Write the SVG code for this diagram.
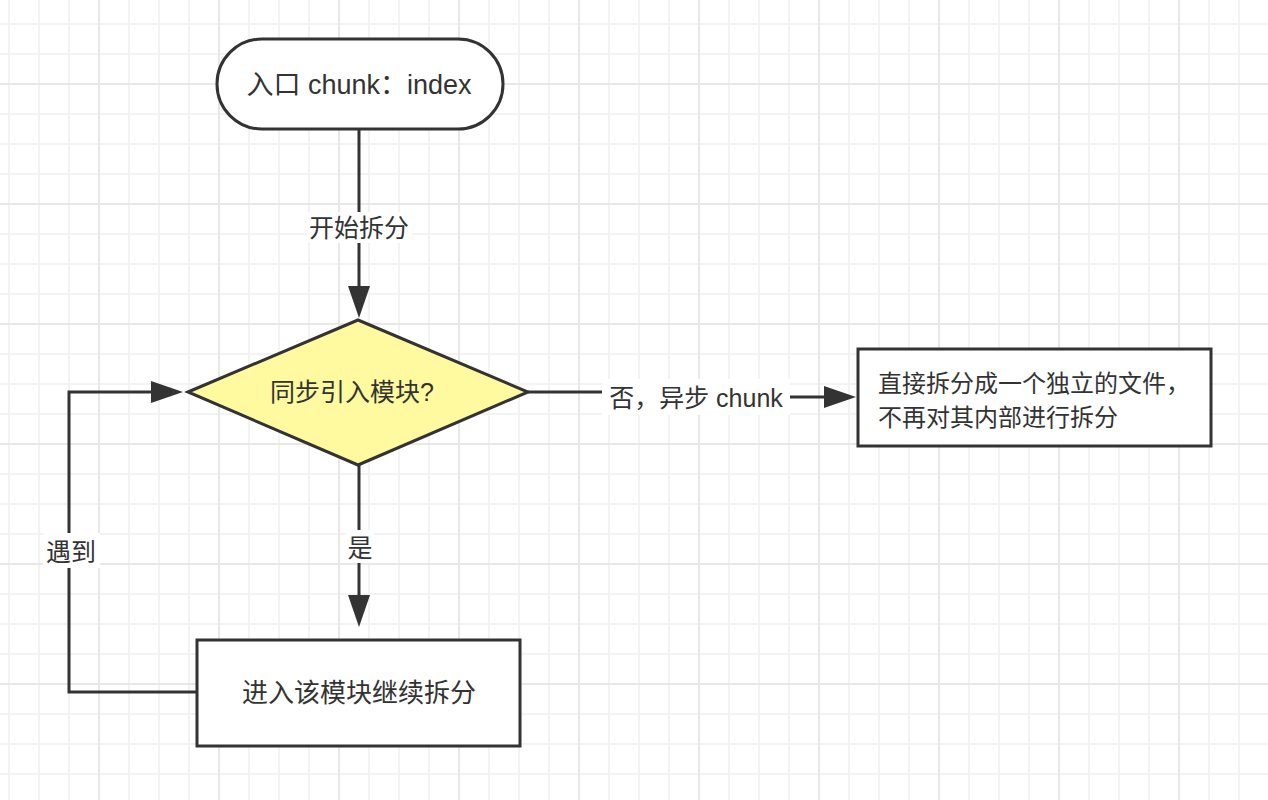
<svg xmlns="http://www.w3.org/2000/svg" width="1268" height="800" viewBox="0 0 1268 800">
<style>
  .node { stroke: #333333; stroke-width: 3; }
  .box { fill: #ffffff; }
  .dec { fill: #fffaa0; }
  .txt { font-family: "Liberation Sans", "Noto Sans CJK SC", sans-serif; fill: #333333; dominant-baseline: central; }
  .mid { text-anchor: middle; }
  .edge { fill: none; stroke: #333333; stroke-width: 3; }
  .lblbg { fill: #ffffff; }
</style>
<defs>
  <pattern id="minor" x="8" y="23" width="30" height="30" patternUnits="userSpaceOnUse">
    <path d="M1,0 V30 M0,1 H30" stroke="#f3f3f3" stroke-width="2" fill="none"/>
  </pattern>
  <pattern id="major" x="98" y="83" width="120" height="120" patternUnits="userSpaceOnUse">
    <path d="M1,0 V120 M0,1 H120" stroke="#e8e8e8" stroke-width="2" fill="none"/>
  </pattern>
  <marker id="arrow" viewBox="0 0 32 22" refX="2" refY="11" markerWidth="32" markerHeight="22" markerUnits="userSpaceOnUse" orient="auto">
    <path d="M0,0 L32,11 L0,22 Z" fill="#333333"/>
  </marker>
</defs>
<rect width="1268" height="800" fill="#ffffff"/>
<rect width="1268" height="800" fill="url(#minor)"/>
<rect width="1268" height="800" fill="url(#major)"/>

<g id="connectors">
  <path class="edge" d="M359,129 V288" marker-end="url(#arrow)"/>
  <path class="edge" d="M359,465 V597" marker-end="url(#arrow)"/>
  <path class="edge" d="M528,392 H693 V397 H826" marker-end="url(#arrow)"/>
  <path class="edge" d="M197,692 H69 V392 H153" marker-end="url(#arrow)"/>
  <g id="label-start">
    <rect class="lblbg" x="307" y="212" width="106" height="31"/>
    <text class="txt mid" x="359" y="228" font-size="25">开始拆分</text>
  </g>
  <g id="label-yes">
    <rect class="lblbg" x="346" y="530" width="28" height="33"/>
    <text class="txt mid" x="360" y="548" font-size="25">是</text>
  </g>
  <g id="label-no">
    <rect class="lblbg" x="602" y="379" width="188" height="36"/>
    <text class="txt mid" x="696" y="398" font-size="25">否，异步 chunk</text>
  </g>
  <g id="label-meet">
    <rect class="lblbg" x="43" y="533" width="57" height="35"/>
    <text class="txt mid" x="71" y="552" font-size="25">遇到</text>
  </g>
</g>

<g id="node-start">
  <rect class="node box" x="217" y="39" width="286" height="90" rx="45" ry="45"/>
  <text class="txt mid" x="359" y="85" font-size="27">入口 chunk：index</text>
</g>

<g id="node-decision">
  <polygon class="node dec" points="188,392 358,320 528,392 358,465"/>
  <text class="txt mid" x="352" y="392" font-size="25">同步引入模块?</text>
</g>

<g id="node-split">
  <rect class="node box" x="197" y="640" width="323" height="106"/>
  <text class="txt mid" x="359" y="693" font-size="26">进入该模块继续拆分</text>
</g>

<g id="node-file">
  <rect class="node box" x="858" y="349" width="353" height="97"/>
  <text class="txt" x="878" y="383" font-size="24">直接拆分成一个独立的文件，</text>
  <text class="txt" x="878" y="417" font-size="24">不再对其内部进行拆分</text>
</g>
</svg>
